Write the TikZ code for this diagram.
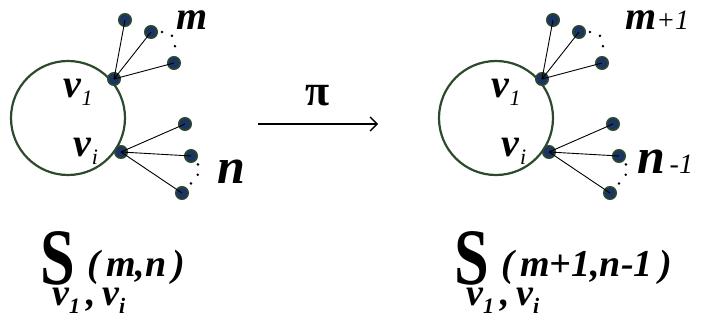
\documentclass[tikz,border=0pt]{standalone}
\usepackage{fontspec}
\setmainfont{Liberation Serif}
\usetikzlibrary{arrows.meta}

\definecolor{ringgreen}{HTML}{2D4A2D}
\definecolor{dotblue}{HTML}{1B3461}

\newcommand{\vlab}[1]{\textbf{\textit{v}}\raisebox{-8pt}{\fontsize{22}{22}\selectfont\itshape #1}}

\tikzset{
  leaf/.style={circle, fill=dotblue, draw=ringgreen, line width=1.5pt, minimum size=12.5pt, inner sep=0pt},
  spoke/.style={line width=0.9pt},
  ring/.style={draw=ringgreen, line width=2.2pt},
  dotarc/.style={line width=2.8pt, line cap=round, dash pattern=on 0pt off 11pt, shorten <=4pt},
  vname/.style={font=\fontsize{40}{40}\selectfont, inner sep=0pt},
  big/.style={font=\fontsize{40}{40}\selectfont\bfseries\itshape, inner sep=0pt},
  sup/.style={font=\fontsize{38}{38}\selectfont\bfseries\itshape, inner sep=0pt, anchor=west},
  sub/.style={font=\fontsize{38}{38}\selectfont\bfseries\itshape, inner sep=0pt, anchor=west},
  gname/.style={font=\fontsize{80}{80}\selectfont\bfseries, xscale=0.78, inner sep=0pt}
}

\begin{document}
\begin{tikzpicture}[x=1pt, y=-1pt]
    \useasboundingbox (0,0) rectangle (701,320);

    % the two star graphs
    \foreach \side/\dx in {L/0, R/428} {
      \begin{scope}[xshift=\dx, name prefix=\side-]
        % circle
        \draw[ring] (68,118) circle (57);
        % hubs on the circle
        \node[leaf] (v1) at (114,79) {};
        \node[leaf] (vi) at (121,152) {};
        % pendant vertices
        \node[leaf] (p1) at (125,20) {};
        \node[leaf] (p2) at (151,32) {};
        \node[leaf] (p3) at (174,63) {};
        \node[leaf] (q1) at (185,124) {};
        \node[leaf] (q2) at (191,156) {};
        \node[leaf] (q3) at (182,193) {};
        \foreach \l in {p1,p2,p3} \draw[spoke] (v1.center) -- (\l.center);
        \foreach \l in {q1,q2,q3} \draw[spoke] (vi.center) -- (\l.center);
        % dots
        \draw[dotarc] (p2.east) to[out=0, in=80, looseness=1.4] (p3.north);
        \draw[dotarc] (q2.south east) to[out=-60, in=50, looseness=1.2] (q3.north east);
        % vertex names
        \node[vname] (n1) at (78,92) {\vlab{1}};
        \node[vname] (ni) at (86,151) {\vlab{i}};
      \end{scope}
    }

    % counts
    \node[big] (m) at (192,20) {m};
    \node[big, font=\fontsize{50}{50}\selectfont\bfseries\itshape] (n) at (231,172) {n};
    \node[big, anchor=west] (m1) at (625,20) {m{\fontsize{28}{28}\selectfont\mdseries +\textit{1}}};
    \node[big, anchor=west, font=\fontsize{50}{50}\selectfont\bfseries\itshape] (n1) at (637,162) {n{\fontsize{28}{28}\selectfont\mdseries\,-\textit{1}}};

    % map
    \coordinate (src) at (258,124);
    \coordinate (dst) at (378,124);
    \draw[line width=1.4pt, -{Straight Barb[length=7pt, width=14pt]}] (src) -- (dst)
        node[midway, above=14pt, font=\fontsize{44}{44}\selectfont\bfseries] (pi) {π};

    % names of the graphs
    \node[gname] (SL) at (58,258) {S};
    \node[sup] (supL) at (87,267) {(\,m,n\,)};
    \node[sub] (subL) at (52,301) {\vlab{1}\,,\,\vlab{i}};
    \node[gname] (SR) at (472,258) {S};
    \node[sup] (supR) at (501,267) {(\,m+\textit{1},n-\textit{1}\,)};
    \node[sub] (subR) at (466,301) {\vlab{1}\,,\,\vlab{i}};
\end{tikzpicture}
\end{document}
